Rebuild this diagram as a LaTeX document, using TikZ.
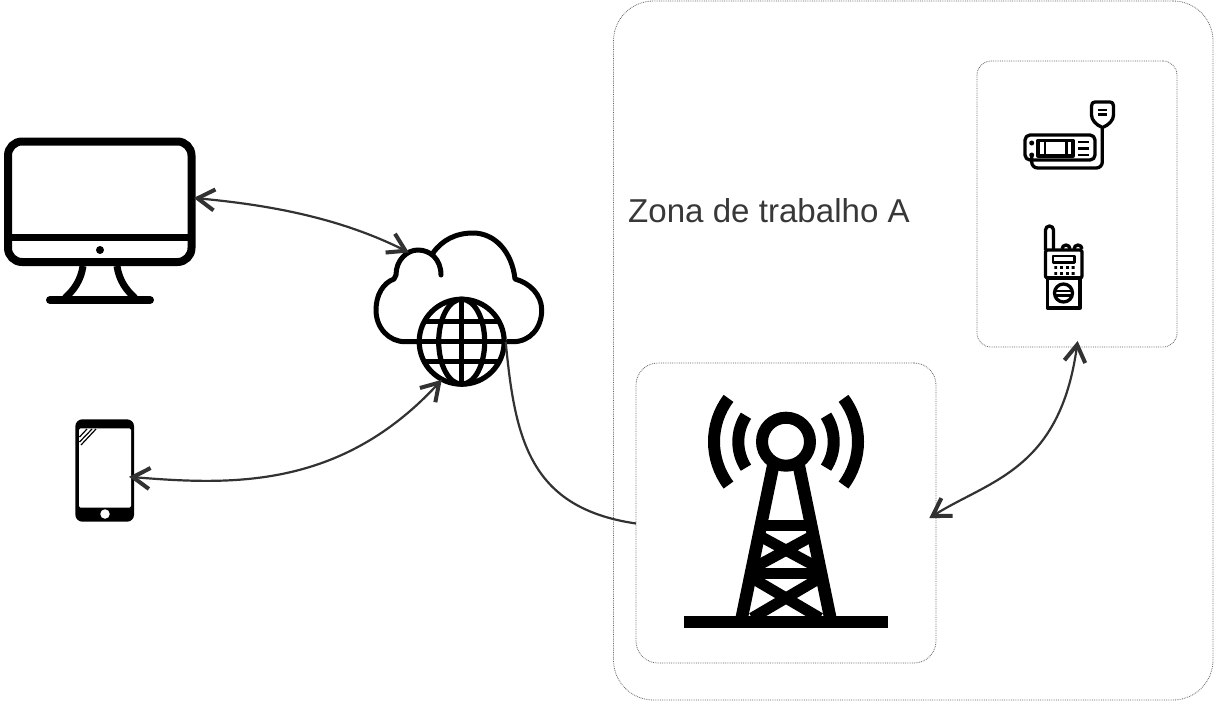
\documentclass[tikz,border=0pt]{standalone}
\usepackage{fontspec}
\setmainfont{Liberation Sans}
\usetikzlibrary{arrows.meta, positioning}
\definecolor{wire}{RGB}{50,50,50}
\definecolor{zone}{RGB}{100,100,100}

\begin{document}
\begin{tikzpicture}[
    x=1pt, y=-1pt,
    zonebox/.style={draw=zone, line width=0.8pt, densely dotted, minimum width=#1, inner sep=0pt, outer sep=0pt},
    ghost/.style={inner sep=0pt, outer sep=0pt, draw=none},
    link/.style={draw=wire, line width=2.2pt, shorten <=-2pt, shorten >=-1pt, {Straight Barb[length=17pt,width=21pt,line width=4pt]}-{Straight Barb[length=17pt,width=21pt,line width=4pt]}},
    plainlink/.style={draw=wire, line width=2.2pt},
    iconline/.style={draw=black, line join=round}
]
    \useasboundingbox (0,0) rectangle (1214,702);

    % Zone boxes
    \node[zonebox=599.5pt, minimum height=699pt, rounded corners=40pt] (zoneA) at (913.25,350.5) {};
    \node[zonebox=300pt, minimum height=300pt, rounded corners=22pt] (towerbox) at (786,513) {};
    \node[zonebox=200pt, minimum height=286pt, rounded corners=14pt] (radiobox) at (1077,204) {};
    \node[anchor=base west, inner sep=0pt, text=black!78, font=\fontsize{33.1}{36}\selectfont] (zonelabel) at (628,222) {Zona de trabalho A};

    % Monitor
    \node[ghost, minimum width=191.5pt, minimum height=129pt] (monitor) at (100,201.5) {};
    \draw[iconline, line width=8pt, rounded corners=14pt] (8,141.5) rectangle (191.5,262);
    \draw[iconline, line width=7pt] (8,237) -- (192,237);
    \fill (100,250) circle[radius=4pt];
    \draw[iconline, line width=7pt] (83,266) .. controls (81,280) and (74,290) .. (65,298);
    \draw[iconline, line width=7pt] (117,266) .. controls (119,280) and (126,290) .. (135,298);
    \draw[iconline, line width=8pt, line cap=round] (50,300) -- (150,300);

    % Phone
    \node[ghost, fill=black, minimum width=58.7pt, minimum height=102.4pt, rounded corners=7pt] (phone) at (104.7,470.5) {};
    \node[ghost, fill=white, minimum width=52pt, minimum height=79.4pt, rounded corners=1.5pt] (screen) at (105,468) {};
    \node[ghost, fill=white, circle, minimum size=9.5pt] (homekey) at (105,514) {};
    \draw[iconline, line width=1.2pt] (79.5,437) -- (87,429) (79.5,442) -- (92,429) (81,445) -- (96,429);

    % Cloud with the globe on it
    \node[ghost, circle, minimum size=88pt] (globe) at (461.7,341.7) {};
    \draw[iconline, line width=5pt, line cap=round] (441,275) .. controls (441,259) and (430,250) .. (418,250)
        .. controls (407,250) and (396,260) .. (396,275) -- (394,279)
        .. controls (383,283) and (376,295) .. (376,310) .. controls (376,328) and (389,341.7) .. (405,341.7) -- (417,341.7);
    \draw[iconline, line width=5pt] (507,341.7) -- (513,341.7) .. controls (530,341.7) and (541.7,328) .. (541.7,310)
        .. controls (541.7,295) and (530,283) .. (515,279) .. controls (512,252) and (495,233) .. (473,233)
        .. controls (456,233) and (442,240) .. (433,253);
    \draw[iconline, line width=5.2pt] (globe.center) circle[radius=42.5pt];
    \draw[iconline, line width=5.2pt] (globe.center) ellipse[x radius=23pt, y radius=42.5pt];
    \draw[iconline, line width=5.2pt] (461.7,299) -- (461.7,384) (425,321.7) -- (498,321.7) (419,341.7) -- (504,341.7) (425,361.7) -- (498,361.7);

    % Tower
    \coordinate (towertop) at (786,441.7);
    \draw[iconline, line width=12pt] (towertop) circle[radius=24pt];
    \draw[line width=12pt] ([shift={(147:47.7pt)}]towertop) arc[start angle=147, end angle=213, radius=47.7pt];
    \draw[line width=12pt] ([shift={(143:72pt)}]towertop) arc[start angle=143, end angle=217, radius=72pt];
    \draw[line width=12pt] ([shift={(33:47.7pt)}]towertop) arc[start angle=33, end angle=-33, radius=47.7pt];
    \draw[line width=12pt] ([shift={(37:72pt)}]towertop) arc[start angle=37, end angle=-37, radius=72pt];
    \draw[line width=12.5pt] (773.3,465) -- (741.7,618) (798.7,465) -- (830.3,618);
    \draw[line width=11pt] (760,525.7) -- (812,525.7) (752,573.3) -- (820,573.3);
    \draw[line width=11pt] (756,534) -- (816,566.5) (816,534) -- (756,566.5)
        (752,578) -- (820,618) (820,578) -- (752,618);
    \fill (684,616) rectangle (888,628);

    % Mobile radio with microphone
    \draw[iconline, line width=3.3pt, rounded corners=5pt] (1025,135) rectangle (1095,160);
    \draw[iconline, line width=3.3pt] (1038,140.5) rectangle (1073,156);
    \draw[iconline, line width=2.8pt] (1045,140.5) -- (1045,156) (1066.7,140.5) -- (1066.7,156);
    \draw[iconline, line width=2.4pt] (1078,141.7) -- (1089,141.7) (1078,148.3) -- (1089,148.3) (1078,155) -- (1089,155);
    \fill (1031.7,143) circle[radius=2.5pt] (1031.7,155) circle[radius=2.5pt];
    \draw[iconline, line width=3.3pt, rounded corners=6pt] (1031.7,155) -- (1031.7,168) -- (1102.3,168) -- (1102.3,127);
    \draw[iconline, line width=3.3pt, fill=white] (1102.5,127.5) .. controls (1096,125) and (1091.5,120) .. (1091.5,115) -- (1091.5,106)
        .. controls (1091.5,103) and (1093,102) .. (1095,102) -- (1110,102) .. controls (1112,102) and (1113.5,103) .. (1113.5,106) -- (1113.5,115)
        .. controls (1113.5,120) and (1109,125) .. (1102.5,127.5);
    \draw[iconline, line width=2.4pt] (1098.3,110) -- (1106.7,110) (1098.3,114.3) -- (1106.7,114.3);

    % Handheld radio
    \draw[iconline, line width=3.3pt] (1045.5,250) -- (1045.5,230) arc[start angle=180, end angle=0, radius=4pt] -- (1053.5,250);
    \draw[iconline, line width=3.3pt] (1062,249) arc[start angle=180, end angle=0, radius=4pt] (1074,249) arc[start angle=180, end angle=0, radius=4pt];
    \draw[iconline, line width=3.3pt, rounded corners=2pt] (1045.5,250) rectangle (1082,278);
    \draw[iconline, line width=2.8pt] (1053,256) rectangle (1074.5,262.5);
    \foreach \col in {1054.3,1060,1066,1071.7}
        \fill (\col,266) rectangle +(2.8,2.8) (\col,272) rectangle +(2.8,2.8);
    \draw[iconline, line width=3.3pt] (1047.5,278) rectangle (1080,308);
    \draw[iconline, line width=3.3pt] (1063.5,293) circle[radius=9pt];
    \draw[iconline, line width=2.2pt] (1055,291) -- (1072,291) (1055,295.5) -- (1072,295.5);

    % Connectors
    \coordinate (cloudport) at (408,252);
    \coordinate (towerport) at (931,517);
    \coordinate (radioport) at (1077.5,342);
    \draw[link] (monitor.2) .. controls (270,205) and (340,218) .. (cloudport);
    \draw[link] (screen.-19) .. controls (230,485) and (340,490) .. (globe.242);
    \draw[plainlink] (globe.east) .. controls (515,440) and (530,508) .. (towerbox.184);
    \draw[link] (towerport) .. controls (990,480) and (1060,470) .. (radioport);
\end{tikzpicture}
\end{document}
